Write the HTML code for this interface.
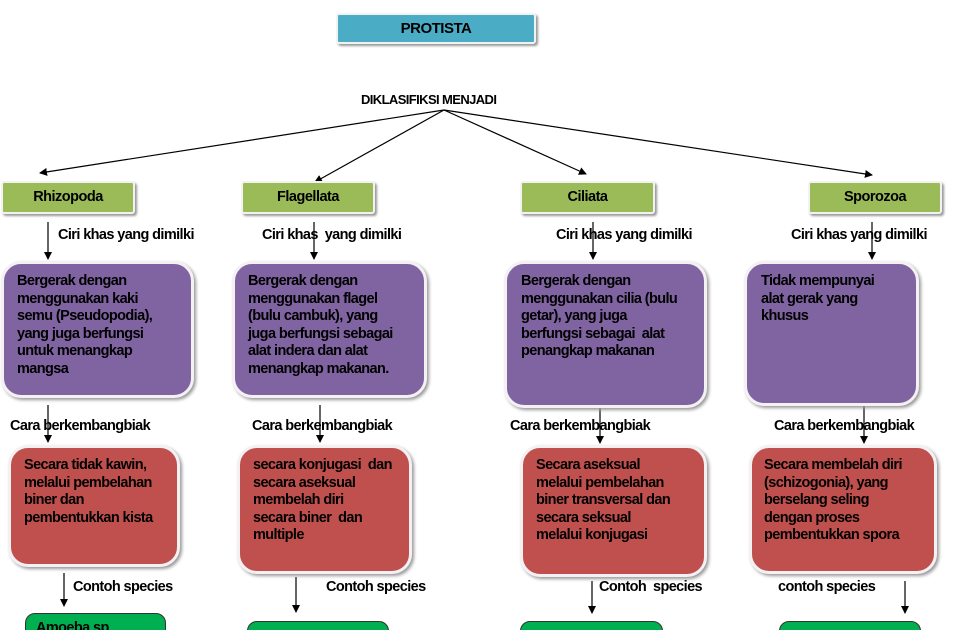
<!DOCTYPE html>
<html><head><meta charset="utf-8"><style>
html,body{margin:0;width:960px;height:630px;overflow:hidden;}
body{background:#fff;position:relative;font-family:"Liberation Sans Narrow","Liberation Sans",sans-serif;font-weight:bold;color:#000;}
.a{position:absolute;}
.t{position:absolute;font-size:14.5px;letter-spacing:-0.6px;line-height:18px;white-space:nowrap;}
.g{position:absolute;background:#9bbb59;border:2px solid #f2f2f2;box-shadow:2px 2px 2px #999;border-radius:3px;text-align:center;font-size:14.5px;letter-spacing:-0.5px;line-height:28px;box-sizing:border-box;}
.p,.r,.s{position:absolute;border:3px solid #f4f0f4;box-shadow:2px 2px 3px #999;border-radius:20px;box-sizing:border-box;font-size:14.5px;letter-spacing:-0.6px;line-height:17.5px;padding:9px 11px;white-space:nowrap;}
.p{background:#8064a2;}
.r{background:#c0504d;}
.s{background:#00b050;border:1px solid #333;border-radius:10px;box-shadow:none;}
</style></head><body>
<div class="g" style="left:336px;top:13px;width:200px;height:31px;background:#4bacc6;line-height:27px;font-size:15px;">PROTISTA</div>
<div class="t" style="left:361px;top:91px;font-size:13px;">DIKLASIFIKSI MENJADI</div>

<svg class="a" style="left:0;top:0" width="960" height="630">
<defs><marker id="m" markerWidth="8" markerHeight="8" refX="7" refY="4" orient="auto" markerUnits="userSpaceOnUse"><path d="M0,0 L8,4 L0,8 z" fill="#000"/></marker></defs>
<g stroke="#000" stroke-width="1.2" fill="none" marker-end="url(#m)">
<line x1="444" y1="110" x2="40" y2="173"/>
<line x1="444" y1="110" x2="315" y2="182"/>
<line x1="444" y1="110" x2="586" y2="174"/>
<line x1="444" y1="110" x2="872" y2="175"/>
<line x1="48" y1="222" x2="48" y2="259"/>
<line x1="314" y1="222" x2="314" y2="259"/>
<line x1="593" y1="222" x2="593" y2="259"/>
<line x1="872" y1="222" x2="872" y2="259"/>
<line x1="48" y1="405" x2="48" y2="442"/>
<line x1="320" y1="405" x2="320" y2="442"/>
<line x1="600" y1="405" x2="600" y2="443"/>
<line x1="864" y1="405" x2="864" y2="443"/>
<line x1="64" y1="573" x2="64" y2="606"/>
<line x1="296" y1="577" x2="296" y2="612"/>
<line x1="592" y1="581" x2="592" y2="613"/>
<line x1="905" y1="581" x2="905" y2="613"/>
</g></svg>

<div class="g" style="left:1px;top:181px;width:134px;height:33px;">Rhizopoda</div>
<div class="g" style="left:241px;top:181px;width:134px;height:33px;">Flagellata</div>
<div class="g" style="left:520px;top:181px;width:135px;height:33px;">Ciliata</div>
<div class="g" style="left:808px;top:181px;width:134px;height:33px;">Sporozoa</div>

<div class="t" style="left:58px;top:226px;">Ciri khas yang dimilki</div>
<div class="t" style="left:262px;top:226px;">Ciri khas&nbsp; yang dimilki</div>
<div class="t" style="left:556px;top:226px;">Ciri khas yang dimilki</div>
<div class="t" style="left:791px;top:226px;">Ciri khas yang dimilki</div>

<div class="p" style="left:1px;top:261px;width:193px;height:137px;padding-left:13px;">Bergerak dengan<br>menggunakan kaki<br>semu (Pseudopodia),<br>yang juga berfungsi<br>untuk menangkap<br>mangsa</div>
<div class="p" style="left:232px;top:261px;width:195px;height:137px;padding-left:13px;">Bergerak dengan<br>menggunakan flagel<br>(bulu cambuk), yang<br>juga berfungsi sebagai<br>alat indera dan alat<br>menangkap makanan.</div>
<div class="p" style="left:504px;top:261px;width:203px;height:147px;padding-left:14px;">Bergerak dengan<br>menggunakan cilia (bulu<br>getar), yang juga<br>berfungsi sebagai&nbsp; alat<br>penangkap makanan</div>
<div class="p" style="left:744px;top:261px;width:175px;height:145px;padding-left:14px;">Tidak mempunyai<br>alat gerak yang<br>khusus</div>

<div class="t" style="left:10px;top:417px;">Cara berkembangbiak</div>
<div class="t" style="left:252px;top:417px;">Cara berkembangbiak</div>
<div class="t" style="left:510px;top:417px;">Cara berkembangbiak</div>
<div class="t" style="left:774px;top:417px;">Cara berkembangbiak</div>

<div class="r" style="left:8px;top:445px;width:172px;height:122px;padding-left:13px;">Secara tidak kawin,<br>melalui pembelahan<br>biner dan<br>pembentukkan kista</div>
<div class="r" style="left:237px;top:445px;width:175px;height:129px;padding-left:13px;">secara konjugasi&nbsp; dan<br>secara aseksual<br>membelah diri<br>secara biner&nbsp; dan<br>multiple</div>
<div class="r" style="left:520px;top:445px;width:187px;height:132px;padding-left:13px;">Secara aseksual<br>melalui pembelahan<br>biner transversal dan<br>secara seksual<br>melalui konjugasi</div>
<div class="r" style="left:749px;top:445px;width:188px;height:129px;padding-left:12px;">Secara membelah diri<br>(schizogonia), yang<br>berselang seling<br>dengan proses<br>pembentukkan spora</div>

<div class="t" style="left:73px;top:578px;">Contoh species</div>
<div class="t" style="left:326px;top:578px;">Contoh species</div>
<div class="t" style="left:599px;top:578px;">Contoh&nbsp; species</div>
<div class="t" style="left:778px;top:578px;">contoh species</div>

<div class="s" style="left:25px;top:613px;width:141px;height:30px;padding:6px 10px;">Amoeba sp</div>
<div class="s" style="left:247px;top:621px;width:142px;height:30px;"></div>
<div class="s" style="left:520px;top:621px;width:143px;height:30px;"></div>
<div class="s" style="left:779px;top:621px;width:142px;height:30px;"></div>
</body></html>
